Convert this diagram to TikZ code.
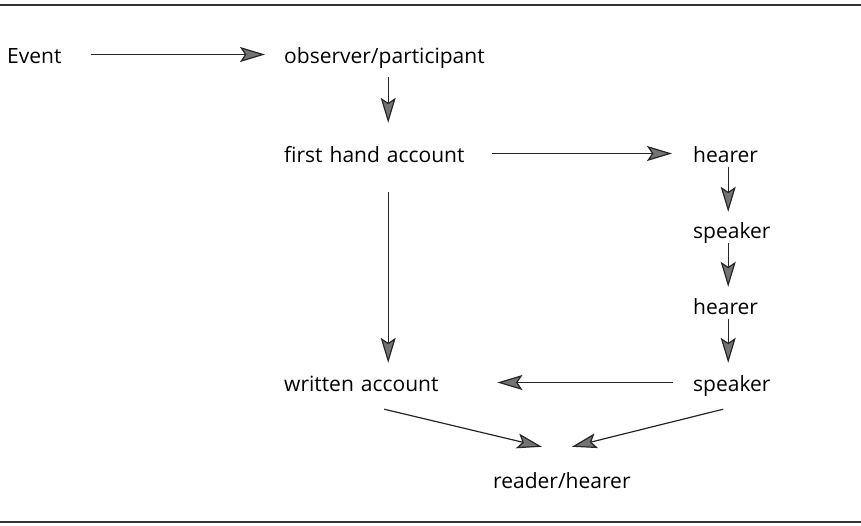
\documentclass[tikz,border=0pt]{standalone}
\usepackage{fontspec}
\setmainfont{Open Sans}
\usetikzlibrary{arrows.meta}

\begin{document}
\begin{tikzpicture}[
  x=1pt, y=-1pt,
  font=\fontsize{21}{25}\selectfont,
  >={Stealth[length=25pt,width=15pt,inset=5pt,fill=black!55]},
  stage/.style={anchor=base west, inner sep=0pt, text height=16pt, text depth=5pt},
  midcol/.style={stage, text width=208pt, align=left},
  rightcol/.style={stage, text width=70pt, align=left},
  flow/.style={->, draw=black!85, line width=1.2pt},
  rulebar/.style={draw=black!80, line width=2pt}
]
  \useasboundingbox (0,0) rectangle (861,525);

  % rules above and below
  \draw[rulebar] (0,5) -- (861,5);
  \draw[rulebar] (0,522) -- (861,522);

  % nodes
  \node[stage] (event) at (7,63) {Event};
  \node[midcol] (observer) at (284,63) {observer/participant};
  \node[midcol] (firsthand) at (284,162) {first hand account};
  \node[rightcol] (hearerA) at (693,162) {hearer};
  \node[rightcol] (speakerA) at (693,238) {speaker};
  \node[rightcol] (hearerB) at (693,314) {hearer};
  \node[rightcol] (speakerB) at (693,391) {speaker};
  \node[midcol] (written) at (284,391) {written account};
  \node[stage] (reader) at (493,488) {reader/hearer};

  % arrows
  \draw[flow, shorten <=29pt, shorten >=19pt] ([yshift=3pt]event.east) -- ([yshift=3pt]observer.west);
  \draw[flow, shorten <=9pt, shorten >=23pt] (observer) -- (firsthand);
  \draw[flow, shorten <=0pt, shorten >=21pt] ([yshift=3pt]firsthand.east) -- ([yshift=3pt]hearerA.west);
  \draw[flow, shorten >=10pt] (hearerA) -- (speakerA);
  \draw[flow, shorten >=11pt] (speakerA) -- (hearerB);
  \draw[flow, shorten >=12pt] (hearerB) -- (speakerB);
  \draw[flow, shorten <=25pt, shorten >=12pt] (firsthand) -- (written);
  \draw[flow, shorten <=20pt, shorten >=5pt] ([yshift=3pt]speakerB.west) -- ([yshift=3pt]written.east);
  \draw[flow] ([xshift=-4pt,yshift=-13pt]written.south) -- ([xshift=-20pt,yshift=25pt]reader.north);
  \draw[flow] ([xshift=-5pt,yshift=-13pt]speakerB.south) -- ([xshift=10pt,yshift=25pt]reader.north);
\end{tikzpicture}
\end{document}
